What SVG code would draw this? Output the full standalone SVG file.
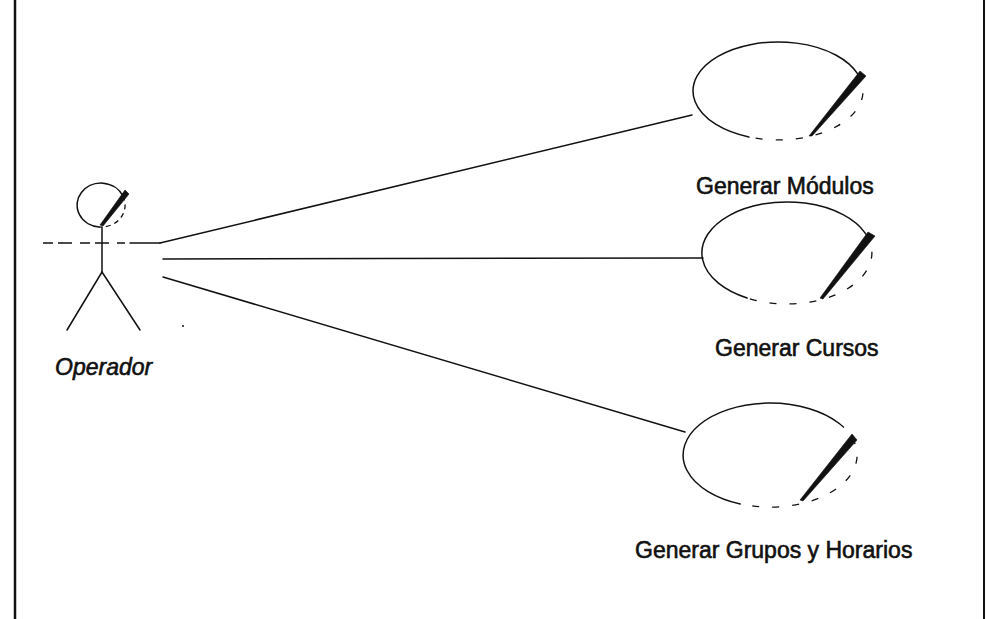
<svg xmlns="http://www.w3.org/2000/svg" width="986" height="619" viewBox="0 0 986 619">
<style>
.ln{stroke:#111;stroke-width:1.5;fill:none;stroke-linecap:round}
.dsh{stroke:#111;stroke-width:1.3;fill:none;stroke-dasharray:7 13}
.sl{fill:#111;stroke:#111;stroke-width:0.6;stroke-linejoin:round}
.lbl{font-family:"Liberation Sans",Arial,sans-serif;font-size:23px;fill:#111;stroke:#111;stroke-width:0.6}
</style>
<rect x="0" y="0" width="986" height="619" fill="#fff"/>
<g id="frame">
<line x1="15" y1="0" x2="15" y2="619" stroke="#111" stroke-width="2.5"/>
<line x1="984" y1="0" x2="984" y2="619" stroke="#111" stroke-width="2"/>
</g>
<g id="actor-operador">
<path class="ln" d="M99,227 A24,22 0 1 1 122.8,195.7"/>
<path class="dsh" d="M122.8,195.7 A24,22 0 0 1 99,227" style="stroke-dasharray:5 4"/>
<polygon class="sl" points="125,190 129,194 103,226 100,225"/>
<line class="ln" x1="102" y1="227" x2="102" y2="272"/>
<line class="ln" x1="102" y1="272" x2="67" y2="330"/>
<line class="ln" x1="102" y1="272" x2="140" y2="330"/>
<line x1="43" y1="243" x2="125" y2="243" stroke="#111" stroke-width="1.5" stroke-dasharray="10 5 14 8"/>
<line class="ln" x1="130" y1="243" x2="160" y2="243"/>
<circle cx="183" cy="326" r="1" fill="#111"/>
<text class="lbl" x="55" y="375" font-style="italic">Operador</text>
</g>
<g id="connectors">
<line class="ln" x1="160" y1="243" x2="692" y2="115"/>
<line class="ln" x1="163" y1="259" x2="703" y2="258"/>
<line class="ln" x1="163" y1="277" x2="685" y2="432"/>
</g>
<g id="uc-generar-modulos">
<path class="ln" d="M748.9,137 A85,49 0 1 1 857.9,74.2"/>
<path class="dsh" d="M857.9,74.2 A85,49 0 0 1 748.9,137"/>
<polygon class="sl" points="860,71 866,76 812,136 809,136"/>
<text class="lbl" x="696" y="194">Generar Módulos</text>
</g>
<g id="uc-generar-cursos">
<path class="ln" d="M747.1,298 A85,51 0 1 1 865.2,233.1"/>
<path class="dsh" d="M865.2,233.1 A85,51 0 0 1 747.1,298"/>
<polygon class="sl" points="868,232 875,236 823,299 820,298"/>
<text class="lbl" x="715" y="356">Generar Cursos</text>
</g>
<g id="uc-generar-grupos">
<path class="ln" d="M740.2,503.9 A87,52 0 1 1 838.6,423"/>
<path class="dsh" d="M838.6,423 A87,52 0 0 1 740.2,503.9"/>
<polygon class="sl" points="852,434 857,440 803,501 800,500"/>
<text class="lbl" x="635" y="558">Generar Grupos y Horarios</text>
</g>
</svg>
